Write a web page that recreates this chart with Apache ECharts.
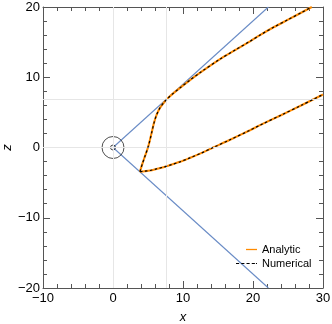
<!DOCTYPE html>
<html>
<head>
<meta charset="utf-8">
<script src="https://cdn.jsdelivr.net/npm/echarts@6/dist/echarts.min.js"></script>
<style>html,body{margin:0;padding:0;background:#fff;}#c{width:332px;height:324px;}</style>
</head>
<body>
<div id="c"></div>
<script>
// ---- data ----
const xRange = [-10, 30];
const zRange = [-20, 20];
const xTickStep = 10;
const zTickStep = 10;
// asymptotes from origin
const upperAsymptote = [[0, 0], [22.2, 20]];
const lowerAsymptote = [[0, 0], [22.2, -20]];
// reference grid lines
const gridX = [0, 7.6];
const gridZ = [0, 6.8];
// centre marker
const origin = [[0, 0]];
// curve branches (from cusp)
const upperBranch = [[3.85,-3.45],[4.2,-2.3],[4.57,-1.24],[5.05,0.19],[5.52,2.09],[5.86,3.51],[6.24,4.69],[6.71,5.64],[7.43,6.59],[7.9,7.07],[8.6,7.7],[9.57,8.49],[11,9.6],[12.5,10.7],[15.29,12.59],[17.5,13.9],[19.57,15.12],[21,16.0],[23,17.15],[25,18.2],[27,19.25],[28.4,20]];
const lowerBranch = [[3.85,-3.45],[4.5,-3.38],[5.3,-3.27],[6.2,-3.05],[7.2,-2.8],[8.4,-2.42],[9.57,-2.04],[11,-1.47],[12.6,-0.8],[14.3,0.0],[16.5,1.0],[19.57,2.46],[21,3.18],[24,4.6],[27,6.05],[30,7.54]];
const legendNames = ['Analytic', 'Numerical'];

const FONT = 'Liberation Sans, Arial, sans-serif';
const frameColor = '#555';
const fmt = v => String(v).replace('-', '\u2212');

function xAx(pos, labels) {
  return {
    type: 'value', position: pos, min: xRange[0], max: xRange[1], interval: xTickStep,
    axisLine: { show: true, onZero: false, lineStyle: { color: frameColor, width: 1 } },
    axisTick: { show: true, inside: true, length: 7, lineStyle: { color: frameColor } },
    minorTick: { show: true, splitNumber: 5, length: 4, lineStyle: { color: frameColor } },
    splitLine: { show: false }, minorSplitLine: { show: false },
    axisLabel: { show: labels, margin: 4, color: '#000', fontSize: 13, fontFamily: FONT, formatter: fmt, hideOverlap: false },
    name: labels ? 'x' : '', nameLocation: 'middle', nameGap: 23, nameMoveOverlap: false,
    nameTextStyle: { fontStyle: 'italic', fontSize: 13, color: '#000', fontFamily: FONT }
  };
}
function zAx(pos, labels) {
  return {
    type: 'value', position: pos, min: zRange[0], max: zRange[1], interval: zTickStep,
    axisLine: { show: true, onZero: false, lineStyle: { color: frameColor, width: 1 } },
    axisTick: { show: true, inside: true, length: 7, lineStyle: { color: frameColor } },
    minorTick: { show: true, splitNumber: 5, length: 4, lineStyle: { color: frameColor } },
    splitLine: { show: false }, minorSplitLine: { show: false },
    axisLabel: { show: labels, margin: 3, color: '#000', fontSize: 13, fontFamily: FONT, formatter: fmt, hideOverlap: false },
    name: labels ? 'z' : '', nameLocation: 'middle', nameGap: 29, nameRotate: 90, nameMoveOverlap: false,
    nameTextStyle: { fontStyle: 'italic', fontSize: 13, color: '#000', fontFamily: FONT }
  };
}

const chart = echarts.init(document.getElementById('c'), null, { renderer: 'canvas' });
const blue = '#6a8cc6';
const orange = '#ff8a00';
const lineBase = { type: 'line', symbol: 'none', showSymbol: false, xAxisIndex: 0, yAxisIndex: 0, animation: false, silent: true };
const dashIcon = 'path://M0,0h3v1h-3z M5,0h3v1h-3z M10,0h3v1h-3z M15,0h3v1h-3z M19,0h1v1h-1z';

chart.setOption({
  animation: false,
  grid: { left: 43, top: 7, width: 280, height: 281, containLabel: false, outerBoundsMode: 'none' },
  xAxis: [xAx('bottom', true), xAx('top', false)],
  yAxis: [zAx('left', true), zAx('right', false)],
  legend: [
    { data: [{ name: legendNames[0], icon: 'rect', itemStyle: { color: orange } }], left: 241, top: 239, itemWidth: 11, itemHeight: 1.3, itemGap: 0,
      textStyle: { fontSize: 11, color: '#000', fontFamily: FONT } },
    { data: [{ name: legendNames[1], icon: dashIcon, itemStyle: { color: '#000' } }], left: 231, top: 253, itemWidth: 21, itemHeight: 1.3, itemGap: 0,
      textStyle: { fontSize: 11, color: '#000', fontFamily: FONT } }
  ],
  series: [
    Object.assign({}, lineBase, { name: 'grid', data: [], z: 1,
      markLine: { silent: true, symbol: 'none', animation: false, label: { show: false },
        lineStyle: { color: '#e6e6e6', width: 1, type: 'solid' },
        data: gridX.map(v => ({ xAxis: v })).concat(gridZ.map(v => ({ yAxis: v }))) } }),
    Object.assign({}, lineBase, { name: 'frame', data: [], xAxisIndex: 1, yAxisIndex: 1 }),
    Object.assign({}, lineBase, { name: 'asym1', data: upperAsymptote, z: 2, lineStyle: { color: blue, width: 1.1 } }),
    Object.assign({}, lineBase, { name: 'asym2', data: lowerAsymptote, z: 2, lineStyle: { color: blue, width: 1.1 } }),
    { type: 'scatter', name: 'ring', data: origin, symbol: 'circle', symbolSize: 22, z: 3, silent: true,
      itemStyle: { color: 'rgba(255,255,255,0)', borderColor: '#222', borderWidth: 1 } },
    { type: 'scatter', name: 'dot', data: origin, symbol: 'circle', symbolSize: 5, z: 3, silent: true,
      itemStyle: { color: 'rgba(255,255,255,0)', borderColor: '#222', borderWidth: 1 } },
    Object.assign({}, lineBase, { name: legendNames[0], data: upperBranch, smooth: 0.3, z: 4, lineStyle: { color: orange, width: 2.1 }, itemStyle: { color: orange } }),
    Object.assign({}, lineBase, { name: legendNames[0], data: lowerBranch, smooth: 0.3, z: 4, lineStyle: { color: orange, width: 2.1 }, itemStyle: { color: orange } }),
    Object.assign({}, lineBase, { name: legendNames[1], data: upperBranch, smooth: 0.3, z: 5, lineStyle: { color: '#000', width: 1.2, type: [2.5, 2.5] }, itemStyle: { color: '#000' } }),
    Object.assign({}, lineBase, { name: legendNames[1], data: lowerBranch, smooth: 0.3, z: 5, lineStyle: { color: '#000', width: 1.2, type: [2.5, 2.5] }, itemStyle: { color: '#000' } })
  ]
});
</script>
</body>
</html>
